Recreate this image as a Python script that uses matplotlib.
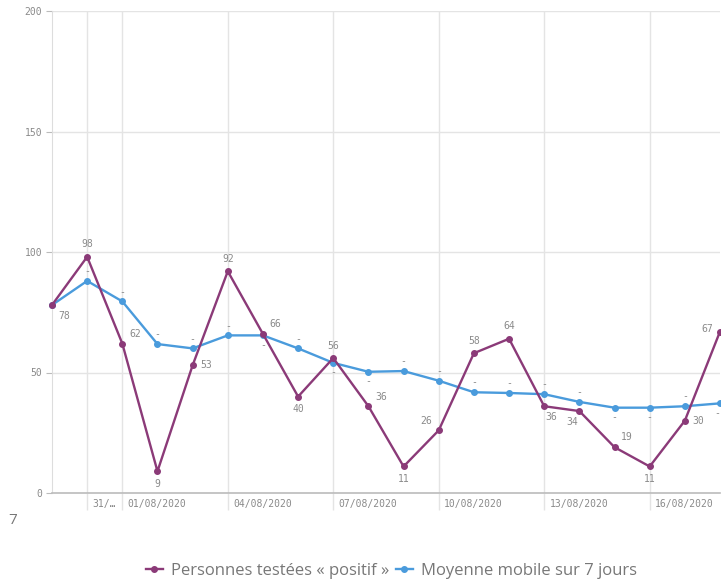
import matplotlib
matplotlib.use("Agg")
import matplotlib.pyplot as plt
from matplotlib.transforms import blended_transform_factory

dates = ["30/07/2020", "31/07/2020", "01/08/2020", "02/08/2020", "03/08/2020",
         "04/08/2020", "05/08/2020", "06/08/2020", "07/08/2020", "08/08/2020",
         "09/08/2020", "10/08/2020", "11/08/2020", "12/08/2020", "13/08/2020",
         "14/08/2020", "15/08/2020", "16/08/2020", "17/08/2020", "18/08/2020"]
positifs = [78, 98, 62, 9, 53, 92, 66, 40, 56, 36, 11, 26, 58, 64, 36, 34, 19, 11, 30, 67]
moyenne = [78, 88, 79.5, 61.8, 60, 65.4, 65.4, 60, 54, 50.3, 50.6, 46.6, 41.8, 41.5,
           41, 37.8, 35.4, 35.4, 36, 37.2]
tick_dates = ["31/07/2020", "01/08/2020", "04/08/2020", "07/08/2020",
              "10/08/2020", "13/08/2020", "16/08/2020"]
tick_texts = ["31/…", "01/08/2020", "04/08/2020", "07/08/2020",
              "10/08/2020", "13/08/2020", "16/08/2020"]
yticks = [0, 50, 100, 150, 200]

purple = "#8B3A78"
blue = "#4A9BDC"
grid_c = "#E4E4E4"
txt_c = "#8A8A8A"
mono = "DejaVu Sans Mono"

fig = plt.figure(figsize=(7.21, 5.84), dpi=100)
ax = fig.add_axes([52/721, 1-493/584, 668/721, 482/584])
x = list(range(len(dates)))
ax.set_xlim(0, len(dates) - 1)
ax.set_ylim(0, 200)

for s in ["top", "right"]:
    ax.spines[s].set_visible(False)
ax.spines["left"].set_color("#DDDDDD")
ax.spines["bottom"].set_color("#BBBBBB")
ax.spines["bottom"].set_linewidth(1.2)

ax.set_yticks(yticks)
ax.set_yticklabels([str(v) for v in yticks], fontfamily=mono, fontsize=7, color=txt_c)
ax.tick_params(axis="y", length=4, color="#BBBBBB", pad=3)
for v in yticks[1:]:
    ax.axhline(v, color=grid_c, lw=1, zorder=0)

tick_pos = [dates.index(d) for d in tick_dates]
ax.set_xticks(tick_pos)
ax.set_xticklabels([])
ax.tick_params(axis="x", length=12, color=grid_c, width=1)
for p in tick_pos:
    ax.axvline(p, color=grid_c, lw=1, zorder=0)
trans = blended_transform_factory(ax.transData, ax.transAxes)
for p, t in zip(tick_pos, tick_texts):
    ax.annotate(t, (p, 0), xycoords=trans, xytext=(4, -4), textcoords="offset points",
                ha="left", va="top", fontfamily=mono, fontsize=7, color=txt_c)

ax.plot(x, positifs, color=purple, lw=1.7, marker="o", ms=4, zorder=3, clip_on=False,
        label="Personnes testées « positif »")
ax.plot(x, moyenne, color=blue, lw=1.7, marker="o", ms=4, zorder=2, clip_on=False,
        label="Moyenne mobile sur 7 jours")

# value labels for positifs: label centre offsets in points
offs = [(9, -8), (0, 9), (9, 7), (0, -9), (10, 0), (0, 9), (9, 7), (0, -9), (0, 9),
        (9, 7), (0, -9), (-9, 7), (0, 9), (0, 9), (5, -8), (-5, -8), (9, 7), (0, -9),
        (10, 0), (-9, 2)]
for xi, v, (dx, dy) in zip(x, positifs, offs):
    ax.annotate(str(v), (xi, v), xytext=(dx, dy), textcoords="offset points",
                ha="center", va="center", fontfamily=mono, fontsize=7, color=txt_c, zorder=5)

# "-" labels for moving average
dash_pos = [None, 1, 1, 1, 1, 1, -1, 1, -1, -1, 1, 1, 1, 1, 1, 1, -1, -1, 1, -1]
for xi, v, d in zip(x, moyenne, dash_pos):
    if d is None:
        continue
    dx = -2 if xi == len(x) - 1 else 0
    ax.annotate("-", (xi, v), xytext=(dx, 7 * d), textcoords="offset points",
                ha="center", va="center", fontfamily=mono, fontsize=7, color=txt_c)

fig.text(8/721, 1-521/584, "7", fontsize=11, color="#777777", ha="left", va="center",
         fontfamily="Open Sans")

leg = fig.legend(loc="center", bbox_to_anchor=(0.543, 1-571/584), ncol=2, frameon=False,
                 prop={"family": "Open Sans", "size": 12}, handlelength=1.0,
                 handletextpad=0.5, columnspacing=0.4, markerscale=1.0)
for t in leg.get_texts():
    t.set_color("#777777")

fig.savefig("out.png", dpi=100)
